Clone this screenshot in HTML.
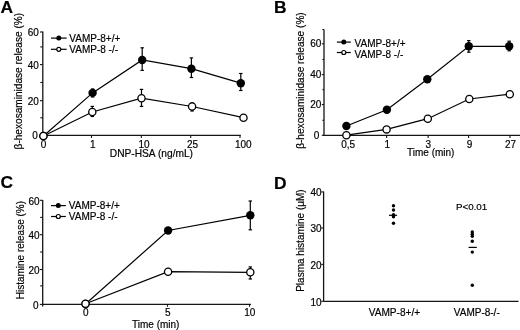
<!DOCTYPE html>
<html><head><meta charset="utf-8"><style>
html,body{margin:0;padding:0;background:#fff;}
svg{display:block;will-change:transform;font-family:"Liberation Sans",sans-serif;}
text{fill:#000;stroke:#000;stroke-width:0.18px;}
</style></head><body>
<svg width="520" height="330" viewBox="0 0 520 330">
<rect width="520" height="330" fill="#fff"/>
<text x="0.5" y="13.2" text-anchor="start" font-size="17.4" font-weight="bold" >A</text>
<line x1="42.8" y1="31.6" x2="42.8" y2="135.4" stroke="#151515" stroke-width="1.3"/>
<line x1="40" y1="32" x2="42.8" y2="32" stroke="#151515" stroke-width="1.1"/>
<text x="38.9" y="36" text-anchor="end" font-size="10" font-weight="normal" >60</text>
<line x1="40" y1="64.6" x2="42.8" y2="64.6" stroke="#151515" stroke-width="1.1"/>
<text x="38.9" y="68.6" text-anchor="end" font-size="10" font-weight="normal" >40</text>
<line x1="40" y1="100.7" x2="42.8" y2="100.7" stroke="#151515" stroke-width="1.1"/>
<text x="38.9" y="104.7" text-anchor="end" font-size="10" font-weight="normal" >20</text>
<line x1="40" y1="135.3" x2="42.8" y2="135.3" stroke="#151515" stroke-width="1.1"/>
<text x="37.9" y="139.3" text-anchor="end" font-size="10" font-weight="normal" >0</text>
<line x1="40.3" y1="46.9" x2="42.8" y2="46.9" stroke="#151515" stroke-width="1.1"/>
<line x1="40.3" y1="82.5" x2="42.8" y2="82.5" stroke="#151515" stroke-width="1.1"/>
<line x1="40.3" y1="117.8" x2="42.8" y2="117.8" stroke="#151515" stroke-width="1.1"/>
<line x1="42.8" y1="135.4" x2="240.8" y2="135.4" stroke="#151515" stroke-width="1.3"/>
<line x1="43.5" y1="135.4" x2="43.5" y2="138" stroke="#151515" stroke-width="1.1"/>
<text x="43.6" y="148" text-anchor="middle" font-size="10" font-weight="normal" >0</text>
<line x1="91.5" y1="135.4" x2="91.5" y2="138" stroke="#151515" stroke-width="1.1"/>
<text x="92.8" y="148" text-anchor="middle" font-size="10" font-weight="normal" >1</text>
<line x1="141.3" y1="135.4" x2="141.3" y2="138" stroke="#151515" stroke-width="1.1"/>
<text x="144" y="148" text-anchor="middle" font-size="10" font-weight="normal" >10</text>
<line x1="190.7" y1="135.4" x2="190.7" y2="138" stroke="#151515" stroke-width="1.1"/>
<text x="192.6" y="148" text-anchor="middle" font-size="10" font-weight="normal" >25</text>
<line x1="240" y1="135.4" x2="240" y2="138" stroke="#151515" stroke-width="1.1"/>
<text x="243.3" y="148" text-anchor="middle" font-size="10" font-weight="normal" >100</text>
<text x="109.8" y="157.2" text-anchor="start" font-size="10.2" font-weight="normal" >DNP-HSA (ng/mL)</text>
<text x="22.4" y="149.4" font-size="10.1" transform="rotate(-90 22.4 149.4)">β-hexosaminidase release (%)</text>
<line x1="51" y1="38.1" x2="66.6" y2="38.1" stroke="#000" stroke-width="1.2"/>
<circle cx="58.8" cy="38.1" r="2.5" fill="#000"/>
<line x1="51" y1="49.3" x2="66.6" y2="49.3" stroke="#000" stroke-width="1.2"/>
<circle cx="58.8" cy="49.3" r="2.0" fill="#fff" stroke="#000" stroke-width="1.2"/>
<text x="69.3" y="41.6" text-anchor="start" font-size="10" font-weight="normal" >VAMP-8+/+</text>
<text x="69.3" y="52.8" text-anchor="start" font-size="10" font-weight="normal" >VAMP-8 -/-</text>
<polyline points="43.4,136 92.6,92.9 142.2,60 191.4,68.7 240.8,83.2" fill="none" stroke="#000" stroke-width="1.2"/>
<polyline points="43.4,136 92.3,112 141.5,98.2 192.1,106.5 243.5,117.7" fill="none" stroke="#000" stroke-width="1.2"/>
<line x1="92.6" y1="89" x2="92.6" y2="97" stroke="#000" stroke-width="1.2"/>
<line x1="90.89999999999999" y1="89" x2="94.3" y2="89" stroke="#000" stroke-width="1.2"/>
<line x1="90.89999999999999" y1="97" x2="94.3" y2="97" stroke="#000" stroke-width="1.2"/>
<line x1="142.2" y1="47.8" x2="142.2" y2="70.4" stroke="#000" stroke-width="1.2"/>
<line x1="140.5" y1="47.8" x2="143.89999999999998" y2="47.8" stroke="#000" stroke-width="1.2"/>
<line x1="140.5" y1="70.4" x2="143.89999999999998" y2="70.4" stroke="#000" stroke-width="1.2"/>
<line x1="191.4" y1="57.9" x2="191.4" y2="77.5" stroke="#000" stroke-width="1.2"/>
<line x1="189.70000000000002" y1="57.9" x2="193.1" y2="57.9" stroke="#000" stroke-width="1.2"/>
<line x1="189.70000000000002" y1="77.5" x2="193.1" y2="77.5" stroke="#000" stroke-width="1.2"/>
<line x1="240.8" y1="73.5" x2="240.8" y2="90.5" stroke="#000" stroke-width="1.2"/>
<line x1="239.10000000000002" y1="73.5" x2="242.5" y2="73.5" stroke="#000" stroke-width="1.2"/>
<line x1="239.10000000000002" y1="90.5" x2="242.5" y2="90.5" stroke="#000" stroke-width="1.2"/>
<line x1="92.3" y1="106.4" x2="92.3" y2="116.5" stroke="#000" stroke-width="1.2"/>
<line x1="90.6" y1="106.4" x2="94.0" y2="106.4" stroke="#000" stroke-width="1.2"/>
<line x1="90.6" y1="116.5" x2="94.0" y2="116.5" stroke="#000" stroke-width="1.2"/>
<line x1="141.5" y1="89.4" x2="141.5" y2="106.4" stroke="#000" stroke-width="1.2"/>
<line x1="139.8" y1="89.4" x2="143.2" y2="89.4" stroke="#000" stroke-width="1.2"/>
<line x1="139.8" y1="106.4" x2="143.2" y2="106.4" stroke="#000" stroke-width="1.2"/>
<line x1="192.1" y1="103" x2="192.1" y2="111" stroke="#000" stroke-width="1.2"/>
<line x1="190.4" y1="103" x2="193.79999999999998" y2="103" stroke="#000" stroke-width="1.2"/>
<line x1="190.4" y1="111" x2="193.79999999999998" y2="111" stroke="#000" stroke-width="1.2"/>
<circle cx="43.4" cy="136" r="4.2" fill="#000"/>
<circle cx="92.6" cy="92.9" r="4.2" fill="#000"/>
<circle cx="142.2" cy="60" r="4.2" fill="#000"/>
<circle cx="191.4" cy="68.7" r="4.2" fill="#000"/>
<circle cx="240.8" cy="83.2" r="4.2" fill="#000"/>
<circle cx="43.4" cy="136" r="3.6" fill="#fff" stroke="#000" stroke-width="1.3"/>
<circle cx="92.3" cy="112" r="3.6" fill="#fff" stroke="#000" stroke-width="1.3"/>
<circle cx="141.5" cy="98.2" r="3.6" fill="#fff" stroke="#000" stroke-width="1.3"/>
<circle cx="192.1" cy="106.5" r="3.6" fill="#fff" stroke="#000" stroke-width="1.3"/>
<circle cx="243.5" cy="117.7" r="3.6" fill="#fff" stroke="#000" stroke-width="1.3"/>
<text x="274" y="13.2" text-anchor="start" font-size="17.4" font-weight="bold" >B</text>
<line x1="324" y1="29.5" x2="324" y2="135.4" stroke="#151515" stroke-width="1.3"/>
<line x1="321.8" y1="43.8" x2="324" y2="43.8" stroke="#151515" stroke-width="1.1"/>
<text x="321.4" y="47.3" text-anchor="end" font-size="10" font-weight="normal" >60</text>
<line x1="321.8" y1="74.6" x2="324" y2="74.6" stroke="#151515" stroke-width="1.1"/>
<text x="321.4" y="78.1" text-anchor="end" font-size="10" font-weight="normal" >40</text>
<line x1="321.8" y1="104.6" x2="324" y2="104.6" stroke="#151515" stroke-width="1.1"/>
<text x="321.4" y="108.1" text-anchor="end" font-size="10" font-weight="normal" >20</text>
<line x1="321.8" y1="135.3" x2="324" y2="135.3" stroke="#151515" stroke-width="1.1"/>
<text x="319.2" y="138.8" text-anchor="end" font-size="10" font-weight="normal" >0</text>
<line x1="322.3" y1="29.5" x2="324" y2="29.5" stroke="#151515" stroke-width="1.1"/>
<line x1="322.3" y1="59.5" x2="324" y2="59.5" stroke="#151515" stroke-width="1.1"/>
<line x1="322.3" y1="89.7" x2="324" y2="89.7" stroke="#151515" stroke-width="1.1"/>
<line x1="322.3" y1="120.2" x2="324" y2="120.2" stroke="#151515" stroke-width="1.1"/>
<line x1="323.3" y1="135.4" x2="520" y2="135.4" stroke="#151515" stroke-width="1.3"/>
<line x1="346.2" y1="135.4" x2="346.2" y2="138" stroke="#151515" stroke-width="1.1"/>
<text x="348.1" y="148" text-anchor="middle" font-size="10" font-weight="normal" >0,5</text>
<line x1="386.6" y1="135.4" x2="386.6" y2="138" stroke="#151515" stroke-width="1.1"/>
<text x="387.2" y="148" text-anchor="middle" font-size="10" font-weight="normal" >1</text>
<line x1="428.1" y1="135.4" x2="428.1" y2="138" stroke="#151515" stroke-width="1.1"/>
<text x="428.4" y="148" text-anchor="middle" font-size="10" font-weight="normal" >3</text>
<line x1="468.6" y1="135.4" x2="468.6" y2="138" stroke="#151515" stroke-width="1.1"/>
<text x="469.6" y="148" text-anchor="middle" font-size="10" font-weight="normal" >9</text>
<line x1="510" y1="135.4" x2="510" y2="138" stroke="#151515" stroke-width="1.1"/>
<text x="510.6" y="148" text-anchor="middle" font-size="10" font-weight="normal" >27</text>
<text x="407" y="156" text-anchor="start" font-size="10" font-weight="normal" >Time (min)</text>
<text x="304.4" y="148.8" font-size="10.1" transform="rotate(-90 304.4 148.8)">β-hexosaminidase release (%)</text>
<line x1="336.9" y1="42.1" x2="350.8" y2="42.1" stroke="#000" stroke-width="1.2"/>
<circle cx="343.8" cy="42.1" r="2.5" fill="#000"/>
<line x1="336.9" y1="52.5" x2="350.8" y2="52.5" stroke="#000" stroke-width="1.2"/>
<circle cx="343.8" cy="52.5" r="2.0" fill="#fff" stroke="#000" stroke-width="1.2"/>
<text x="354.6" y="46.9" text-anchor="start" font-size="10" font-weight="normal" >VAMP-8+/+</text>
<text x="354.6" y="57.5" text-anchor="start" font-size="10" font-weight="normal" >VAMP-8 -/-</text>
<polyline points="346.4,126 386.9,109.7 427.3,79.3 468.8,46.3 509.2,46.3" fill="none" stroke="#000" stroke-width="1.2"/>
<polyline points="346.4,135.2 386.6,129.4 427.8,118.7 469.3,99 509.8,94.2" fill="none" stroke="#000" stroke-width="1.2"/>
<line x1="468.8" y1="40.6" x2="468.8" y2="52.2" stroke="#000" stroke-width="1.2"/>
<line x1="467.1" y1="40.6" x2="470.5" y2="40.6" stroke="#000" stroke-width="1.2"/>
<line x1="467.1" y1="52.2" x2="470.5" y2="52.2" stroke="#000" stroke-width="1.2"/>
<line x1="509.2" y1="41.2" x2="509.2" y2="50.8" stroke="#000" stroke-width="1.2"/>
<line x1="507.5" y1="41.2" x2="510.9" y2="41.2" stroke="#000" stroke-width="1.2"/>
<line x1="507.5" y1="50.8" x2="510.9" y2="50.8" stroke="#000" stroke-width="1.2"/>
<circle cx="346.4" cy="126" r="4.2" fill="#000"/>
<circle cx="386.9" cy="109.7" r="4.2" fill="#000"/>
<circle cx="427.3" cy="79.3" r="4.2" fill="#000"/>
<circle cx="468.8" cy="46.3" r="4.2" fill="#000"/>
<circle cx="509.2" cy="46.3" r="4.2" fill="#000"/>
<circle cx="346.4" cy="135.2" r="3.6" fill="#fff" stroke="#000" stroke-width="1.3"/>
<circle cx="386.6" cy="129.4" r="3.6" fill="#fff" stroke="#000" stroke-width="1.3"/>
<circle cx="427.8" cy="118.7" r="3.6" fill="#fff" stroke="#000" stroke-width="1.3"/>
<circle cx="469.3" cy="99" r="3.6" fill="#fff" stroke="#000" stroke-width="1.3"/>
<circle cx="509.8" cy="94.2" r="3.6" fill="#fff" stroke="#000" stroke-width="1.3"/>
<text x="0.5" y="187.6" text-anchor="start" font-size="17.4" font-weight="bold" >C</text>
<line x1="42.7" y1="200" x2="42.7" y2="306.4" stroke="#151515" stroke-width="1.3"/>
<line x1="39.9" y1="200.3" x2="42.7" y2="200.3" stroke="#151515" stroke-width="1.1"/>
<text x="39.5" y="204.60000000000002" text-anchor="end" font-size="10" font-weight="normal" >60</text>
<line x1="39.9" y1="234.7" x2="42.7" y2="234.7" stroke="#151515" stroke-width="1.1"/>
<text x="39.5" y="239.0" text-anchor="end" font-size="10" font-weight="normal" >40</text>
<line x1="39.9" y1="269.5" x2="42.7" y2="269.5" stroke="#151515" stroke-width="1.1"/>
<text x="39.5" y="273.8" text-anchor="end" font-size="10" font-weight="normal" >20</text>
<line x1="39.9" y1="304.4" x2="42.7" y2="304.4" stroke="#151515" stroke-width="1.1"/>
<text x="38.6" y="308.7" text-anchor="end" font-size="10" font-weight="normal" >0</text>
<line x1="40.2" y1="217.4" x2="42.7" y2="217.4" stroke="#151515" stroke-width="1.1"/>
<line x1="40.2" y1="252" x2="42.7" y2="252" stroke="#151515" stroke-width="1.1"/>
<line x1="40.2" y1="285.9" x2="42.7" y2="285.9" stroke="#151515" stroke-width="1.1"/>
<line x1="42.7" y1="304.3" x2="251" y2="304.3" stroke="#151515" stroke-width="1.3"/>
<line x1="85.5" y1="304.3" x2="85.5" y2="306.8" stroke="#151515" stroke-width="1.1"/>
<text x="85.8" y="316.4" text-anchor="middle" font-size="10" font-weight="normal" >0</text>
<line x1="167.5" y1="304.3" x2="167.5" y2="306.8" stroke="#151515" stroke-width="1.1"/>
<text x="167.8" y="316.4" text-anchor="middle" font-size="10" font-weight="normal" >5</text>
<line x1="249.5" y1="304.3" x2="249.5" y2="306.8" stroke="#151515" stroke-width="1.1"/>
<text x="249.8" y="316.4" text-anchor="middle" font-size="10" font-weight="normal" >10</text>
<text x="132" y="327.6" text-anchor="start" font-size="10" font-weight="normal" >Time (min)</text>
<text x="24" y="299.3" font-size="10" transform="rotate(-90 24 299.3)">Histamine release (%)</text>
<line x1="51" y1="205.6" x2="65.8" y2="205.6" stroke="#000" stroke-width="1.2"/>
<circle cx="58.3" cy="205.6" r="2.5" fill="#000"/>
<line x1="51" y1="216.5" x2="65.8" y2="216.5" stroke="#000" stroke-width="1.2"/>
<circle cx="58.3" cy="216.5" r="2.0" fill="#fff" stroke="#000" stroke-width="1.2"/>
<text x="68.8" y="209.2" text-anchor="start" font-size="10" font-weight="normal" >VAMP-8+/+</text>
<text x="68.8" y="220.2" text-anchor="start" font-size="10" font-weight="normal" >VAMP-8 -/-</text>
<polyline points="85.5,304 168.1,230.5 250.3,215.3" fill="none" stroke="#000" stroke-width="1.2"/>
<polyline points="85.5,303.8 168.1,271.7 250.3,272.3" fill="none" stroke="#000" stroke-width="1.2"/>
<line x1="250.3" y1="201" x2="250.3" y2="229.8" stroke="#000" stroke-width="1.2"/>
<line x1="248.60000000000002" y1="201" x2="252.0" y2="201" stroke="#000" stroke-width="1.2"/>
<line x1="248.60000000000002" y1="229.8" x2="252.0" y2="229.8" stroke="#000" stroke-width="1.2"/>
<line x1="250.3" y1="266.9" x2="250.3" y2="279" stroke="#000" stroke-width="1.2"/>
<line x1="248.60000000000002" y1="266.9" x2="252.0" y2="266.9" stroke="#000" stroke-width="1.2"/>
<line x1="248.60000000000002" y1="279" x2="252.0" y2="279" stroke="#000" stroke-width="1.2"/>
<circle cx="85.5" cy="304" r="4.2" fill="#000"/>
<circle cx="168.1" cy="230.5" r="4.2" fill="#000"/>
<circle cx="250.3" cy="215.3" r="4.2" fill="#000"/>
<circle cx="85.5" cy="303.8" r="3.6" fill="#fff" stroke="#000" stroke-width="1.3"/>
<circle cx="168.1" cy="271.7" r="3.6" fill="#fff" stroke="#000" stroke-width="1.3"/>
<circle cx="250.3" cy="272.3" r="3.6" fill="#fff" stroke="#000" stroke-width="1.3"/>
<text x="274" y="188.9" text-anchor="start" font-size="17.4" font-weight="bold" >D</text>
<line x1="323.6" y1="191.5" x2="323.6" y2="301.4" stroke="#151515" stroke-width="1.3"/>
<line x1="321.3" y1="191.9" x2="323.6" y2="191.9" stroke="#151515" stroke-width="1.1"/>
<text x="321.6" y="196.1" text-anchor="end" font-size="10" font-weight="normal" >40</text>
<line x1="321.3" y1="228" x2="323.6" y2="228" stroke="#151515" stroke-width="1.1"/>
<text x="321.6" y="232.2" text-anchor="end" font-size="10" font-weight="normal" >30</text>
<line x1="321.3" y1="264.4" x2="323.6" y2="264.4" stroke="#151515" stroke-width="1.1"/>
<text x="321.6" y="268.59999999999997" text-anchor="end" font-size="10" font-weight="normal" >20</text>
<line x1="321.3" y1="301.3" x2="323.6" y2="301.3" stroke="#151515" stroke-width="1.1"/>
<text x="321.6" y="305.5" text-anchor="end" font-size="10" font-weight="normal" >10</text>
<line x1="323.6" y1="301.4" x2="518.5" y2="301.4" stroke="#151515" stroke-width="1.3"/>
<text x="368.7" y="315.6" text-anchor="start" font-size="10.1" font-weight="normal" >VAMP-8+/+</text>
<text x="453.8" y="315.6" text-anchor="start" font-size="10" font-weight="normal" >VAMP-8-/-</text>
<text x="456" y="210.3" text-anchor="start" font-size="9.75" font-weight="normal" >P&lt;0.01</text>
<text x="303.6" y="291.8" font-size="10" transform="rotate(-90 303.6 291.8)">Plasma histamine (µM)</text>
<circle cx="393.5" cy="205.8" r="1.7" fill="#000"/>
<circle cx="393.5" cy="210" r="1.7" fill="#000"/>
<circle cx="393.5" cy="214.7" r="1.7" fill="#000"/>
<circle cx="393.5" cy="216.8" r="1.7" fill="#000"/>
<circle cx="393.5" cy="223.3" r="1.7" fill="#000"/>
<line x1="389" y1="215.3" x2="397.1" y2="215.3" stroke="#000" stroke-width="1.2"/>
<circle cx="472.3" cy="232" r="1.7" fill="#000"/>
<circle cx="472.3" cy="234.3" r="1.7" fill="#000"/>
<circle cx="472.3" cy="236.3" r="1.7" fill="#000"/>
<circle cx="472.3" cy="241.2" r="1.7" fill="#000"/>
<circle cx="472.3" cy="252.1" r="1.7" fill="#000"/>
<circle cx="472.3" cy="285.3" r="1.7" fill="#000"/>
<line x1="468.6" y1="247.4" x2="476.8" y2="247.4" stroke="#000" stroke-width="1.2"/>
</svg>
</body></html>
